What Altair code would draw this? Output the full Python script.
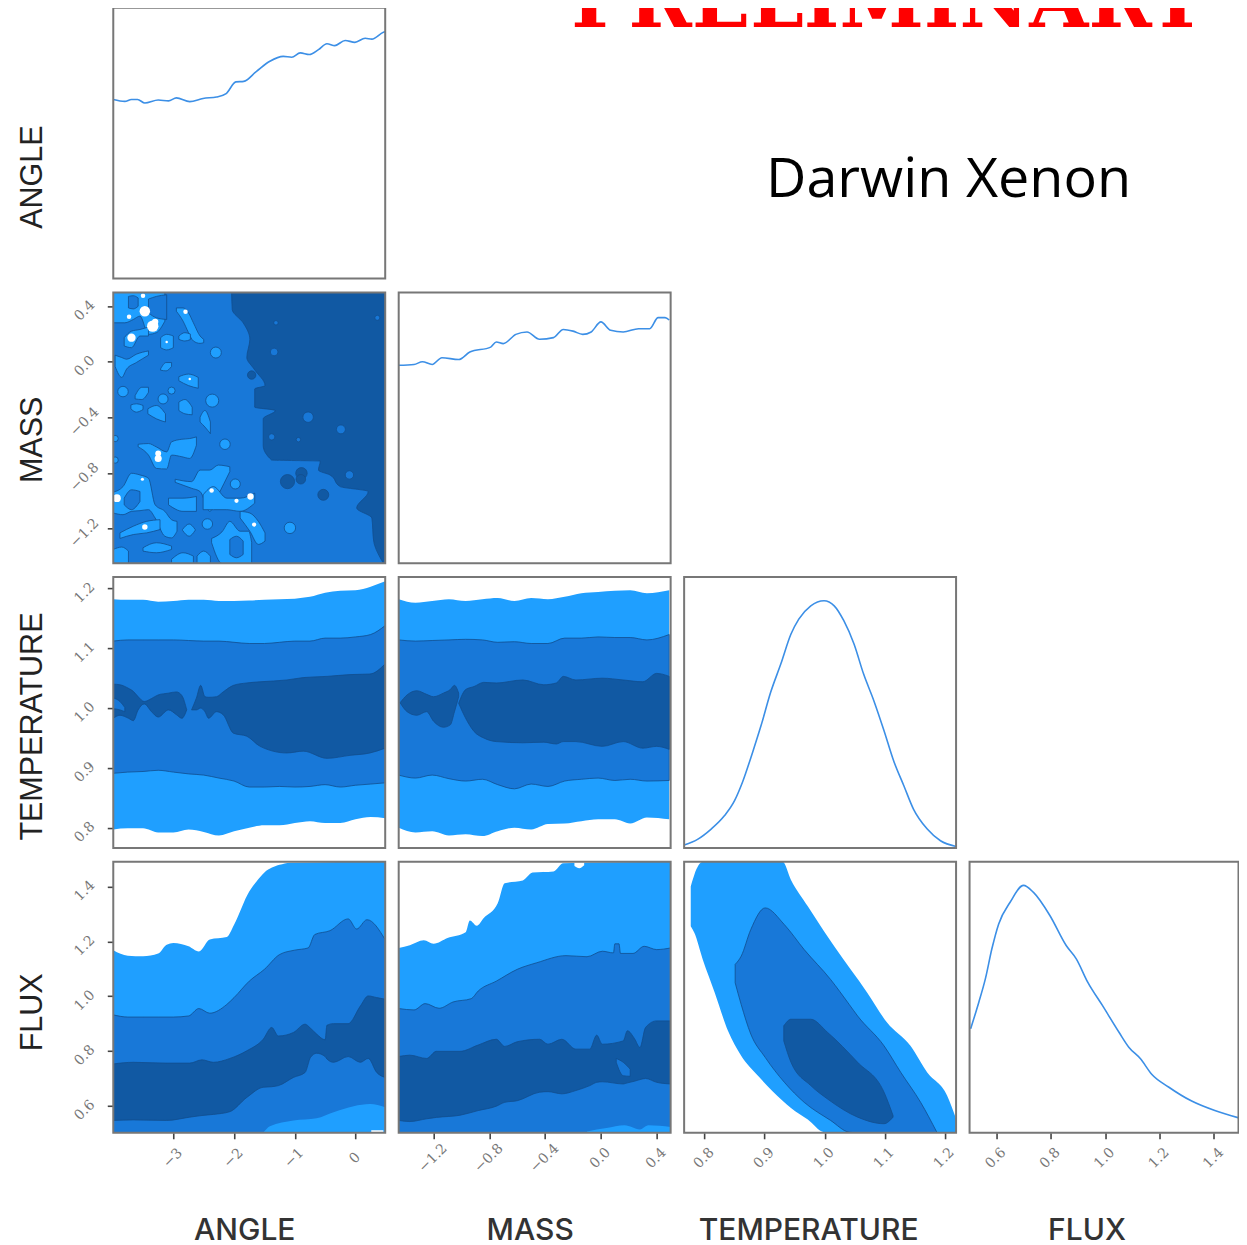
import altair as alt
import pandas as pd

# ---- axis ranges and ticks ----
ANGLE_DOM = [-3.99, 0.49]
MASS_DOM = [-1.45, 0.5]
TEMP_DOM = [0.766, 1.219]
FLUX_DOM = [0.502, 1.49]
ANGLE_TICKS = [-3, -2, -1, 0]
MASS_TICKS = [-1.2, -0.8, -0.4, 0.0, 0.4]
TEMP_TICKS = [0.8, 0.9, 1.0, 1.1, 1.2]
FLUX_TICKS = [0.6, 0.8, 1.0, 1.2, 1.4]

# ---- 1D marginals ----
ANGLE_X = [-3.99,-3.80,-3.69,-3.59,-3.47,-3.25,-3.08,-2.95,-2.73,-2.51,-2.29,-2.13,-1.97,-1.84,-1.63,-1.41,-1.19,-1.05,-0.91,-0.76,-0.61,-0.47,-0.34,-0.17,-0.01,0.16,0.27,0.46,0.49]
ANGLE_D = [.661,.654,.661,.661,.648,.659,.656,.667,.653,.665,.670,.683,.726,.728,.765,.802,.820,.817,.833,.827,.845,.867,.860,.879,.872,.887,.884,.909,.911]
MASS_X = [-1.45,-1.34,-1.28,-1.21,-1.14,-1.02,-.94,-.79,-.75,-.70,-.61,-.53,-.44,-.34,-.27,-.20,-.13,-.07,0.0,.07,.16,.27,.35,.41,.46,.49]
MASS_D = [.731,.734,.744,.734,.759,.752,.780,.798,.817,.811,.845,.854,.827,.833,.863,.857,.845,.854,.891,.860,.854,.866,.866,.907,.907,.898]
TEMP_X = [.766,.789,.811,.833,.850,.863,.880,.894,.910,.927,.944,.957,.977,.999,1.016,1.032,1.049,1.065,1.082,1.099,1.115,1.132,1.148,1.171,1.193,1.219]
TEMP_D = [.011,.033,.07,.119,.175,.242,.353,.451,.574,.679,.79,.845,.894,.913,.894,.839,.753,.642,.544,.433,.322,.23,.144,.07,.027,.006]
FLUX_X = [.506,.536,.56,.584,.609,.651,.70,.736,.797,.857,.894,.936,.99,1.051,1.087,1.13,1.172,1.233,1.318,1.403,1.491]
FLUX_D = [.384,.482,.568,.679,.771,.851,.913,.888,.802,.691,.642,.556,.47,.371,.316,.273,.215,.169,.117,.082,.055]

# ---- TEMPERATURE vs ANGLE ----
TA_X = [-3.99,-3.75,-3.5,-3.25,-3.0,-2.75,-2.5,-2.25,-2.0,-1.75,-1.5,-1.25,-1.0,-0.75,-0.5,-0.25,0,0.25,0.49]
TA_LIGHT_HI = [1.182,1.181,1.181,1.178,1.179,1.181,1.181,1.179,1.179,1.18,1.181,1.182,1.183,1.186,1.193,1.196,1.197,1.203,1.212]
TA_LIGHT_LO = [.797,.799,.799,.792,.792,.797,.793,.787,.794,.8,.804,.804,.808,.811,.808,.808,.814,.818,.816]
TA_MID_HI = [1.112,1.114,1.114,1.114,1.114,1.113,1.112,1.112,1.11,1.108,1.108,1.11,1.112,1.112,1.117,1.117,1.119,1.123,1.138]
TA_MID_LO = [.891,.893,.894,.896,.893,.89,.888,.883,.878,.868,.868,.869,.868,.869,.872,.868,.871,.873,.875]
TA_D1_X = [-3.99,-3.88,-3.74,-3.66,-3.58,-3.48,-3.36,-3.25,-3.08,-2.95,-2.86,-2.78]
TA_D1_HI = [1.04,1.039,1.033,1.028,1.019,1.011,1.016,1.022,1.025,1.027,1.021,.997]
TA_D1_LO = [.983,.988,.983,.979,.997,1.007,.994,.985,.997,.989,.983,.997]
TA_D2_X = [-2.70,-2.62,-2.55,-2.48,-2.42,-2.29,-2.18,-2.01,-1.79,-1.57,-1.13,-.86,-.47,-.09,.24,.49]
TA_D2_HI = [.997,1.017,1.038,1.019,1.018,1.019,1.027,1.038,1.042,1.044,1.047,1.051,1.053,1.056,1.057,1.074]
TA_D2_LO = [.997,.997,1.0,.994,.983,.994,.989,.958,.953,.936,.925,.928,.916,.921,.925,.933]
TA_NOTCH = [(-3.99,.999,1.017),(-3.88,.997,1.011),(-3.8,.994,1.001)]

# ---- TEMPERATURE vs MASS ----
TM_X = [-1.45,-1.33,-1.21,-1.09,-.97,-.85,-.74,-.62,-.5,-.38,-.26,-.14,-.02,.1,.21,.33,.49]
TM_LIGHT_HI = [1.182,1.176,1.179,1.182,1.179,1.182,1.184,1.179,1.184,1.182,1.186,1.192,1.194,1.196,1.197,1.192,1.197]
TM_LIGHT_LO = [.8,.792,.794,.787,.789,.786,.794,.8,.797,.806,.807,.811,.814,.814,.807,.817,.814]
TM_MID_HI = [1.114,1.112,1.113,1.114,1.115,1.114,1.11,1.111,1.108,1.108,1.117,1.117,1.119,1.118,1.118,1.114,1.123]
TM_MID_LO = [.888,.883,.888,.882,.878,.881,.872,.865,.873,.869,.878,.881,.883,.879,.881,.878,.879]
TM_D1_X = [-1.44,-1.39,-1.32,-1.25,-1.2,-1.13,-1.08,-1.05,-1.02]
TM_D1_HI = [1.009,1.022,1.029,1.023,1.019,1.025,1.031,1.038,1.025]
TM_D1_LO = [1.009,.994,.988,.994,.978,.968,.972,.994,1.019]
TM_D2_X = [-1.02,-.97,-.91,-.84,-.75,-.56,-.41,-.32,-.27,-.18,.01,.16,.3,.4,.49]
TM_D2_HI = [1.008,1.031,1.036,1.043,1.042,1.047,1.039,1.042,1.053,1.047,1.05,1.047,1.044,1.058,1.053]
TM_D2_LO = [1.008,.983,.961,.95,.944,.942,.943,.94,.944,.944,.936,.944,.933,.936,.931]

# ---- FLUX vs ANGLE ----
FA_LIGHT_X = [-3.99,-3.75,-3.5,-3.25,-3.11,-3,-2.75,-2.58,-2.4,-2.12,-2,-1.75,-1.63,-1.5,-1.25,-1.08,.49]
FA_LIGHT_HI = [1.168,1.148,1.146,1.156,1.188,1.194,1.182,1.163,1.207,1.216,1.261,1.382,1.418,1.451,1.479,1.487,1.49]
FA_MID_X = [-3.99,-3.75,-3.5,-3.25,-3,-2.75,-2.58,-2.4,-2.12,-2,-1.75,-1.5,-1.25,-1,-.78,-.67,-.42,-.12,.02,.19,.49]
FA_MID_HI = [.932,.924,.924,.924,.924,.928,.955,.938,.97,.995,1.055,1.098,1.152,1.168,1.176,1.225,1.239,1.282,1.245,1.279,1.206]
FA_PATCH = [(-1.52,.502,.502),(-1.41,.502,.526),(-1.02,.502,.547),(-.64,.502,.555),(-.36,.502,.577),(-.03,.502,.599),(.24,.502,.607),(.49,.502,.595)]
FA_WHITE = [(.26,.502,.511),(.46,.502,.511)]
FA_D_X = [-3.99,-3.66,-3.11,-2.73,-2.53,-2.34,-2.07,-1.79,-1.52,-1.38,-1.27,-1.02,-.83,-.74,-.64,-.5,-.47,-.36,-.12,.08,.21,.35,.49]
FA_D_HI = [.753,.759,.756,.756,.768,.759,.773,.801,.843,.886,.855,.868,.898,.883,.862,.841,.894,.9,.9,.964,1.001,.995,.989]
FA_D_LO = [.547,.549,.547,.559,.565,.569,.579,.631,.668,.67,.674,.704,.722,.777,.792,.78,.771,.759,.78,.759,.773,.722,.704]

# ---- FLUX vs MASS ----
FM_LIGHT_X = [-1.45,-1.37,-1.27,-1.2,-1.1,-.97,-.94,-.89,-.84,-.74,-.69,-.56,-.49,-.34,-.27,.5]
FM_LIGHT_HI = [1.176,1.186,1.204,1.191,1.212,1.233,1.276,1.257,1.285,1.339,1.412,1.422,1.451,1.455,1.485,1.49]
FM_MID_X = [-1.45,-1.34,-1.26,-1.16,-1.06,-.93,-.88,-.75,-.6,-.46,-.25,-.1,.01,.09,.1,.13,.14,.23,.31,.4,.5]
FM_MID_HI = [.955,.95,.973,.956,.979,.991,1.019,1.055,1.098,1.122,1.148,1.144,1.164,1.158,1.191,1.191,1.156,1.156,1.182,1.17,1.176]
FM_PATCH = [(-.1,.502,.507),(.04,.502,.519),(.17,.502,.529),(.28,.502,.514),(.34,.502,.529),(.5,.502,.523)]
FM_WHITE = [(-.19,1.475,1.49),(-.155,1.467,1.49),(-.12,1.478,1.49)]
FM_D_X = [-1.45,-1.37,-1.25,-1.18,-1.01,-.88,-.75,-.69,-.6,-.44,-.38,-.28,-.18,-.08,-.03,.01,.16,.19,.24,.28,.32,.4,.5]
FM_D_HI = [.78,.785,.773,.799,.799,.822,.843,.817,.834,.843,.825,.843,.807,.807,.858,.825,.837,.874,.846,.813,.886,.91,.91]
FM_D_LO = [.547,.543,.553,.558,.566,.583,.599,.613,.619,.65,.652,.644,.656,.674,.686,.688,.68,.684,.69,.696,.7,.686,.68]
FM_HOLE = [(.11,.759,.773),(.16,.71,.759),(.21,.708,.734)]

# ---- FLUX vs TEMPERATURE ----
FT_LIGHT_X = [.777,.783,.797,.817,.839,.861,.889,.93,.944,.972,.999,1.016,1.071,1.104,1.143,1.171,1.204,1.219]
FT_LIGHT_HI = [1.4,1.443,1.49,1.49,1.49,1.49,1.49,1.49,1.424,1.328,1.237,1.182,1.013,.904,.819,.722,.638,.553]
FT_LIGHT_LO = [1.255,1.231,1.134,1.013,.874,.783,.71,.619,.592,.55,.504,.502,.502,.502,.502,.502,.502,.502]
FT_MID_X = [.851,.861,.877,.901,.933,.966,1.01,1.041,1.055,1.099,1.127,1.16,1.187]
FT_MID_HI = [1.116,1.146,1.243,1.322,1.261,1.17,1.061,.97,.928,.819,.722,.613,.504]
FT_MID_LO = [1.049,.97,.862,.777,.686,.613,.547,.504,.502,.502,.502,.502,.502]
FT_D_X = [.932,.944,.977,1.005,1.055,1.099,1.114]
FT_D_HI = [.892,.916,.916,.868,.759,.65,.565]
FT_D_LO = [.837,.759,.674,.625,.559,.535,.559]

# ---- MASS vs ANGLE ----
MA_DARK_Y = [.5,.376,.281,.162,.031,-.052,-.171,-.195,-.326,-.35,-.41,-.6,-.707,-.714,-.779,-.814,-.898,-.933,-1.052,-1.124,-1.29,-1.45]
MA_DARK_X = [-2.04,-2.03,-1.85,-1.74,-1.79,-1.67,-1.49,-1.66,-1.66,-1.32,-1.52,-1.52,-1.38,-.58,-.61,-.42,-.25,.21,.02,.27,.3,.46]
MA_LIGHT = [
    [(-3.99,.281,.5),(-3.80,.281,.5),(-3.66,.305,.5),(-3.55,.329,.5),(-3.41,.198,.5),(-3.28,.21,.5),(-3.14,.293,.5)],
    [(-3.81,.114,.174),(-3.69,.102,.221),(-3.55,.186,.233),(-3.41,.186,.25)],
    [(-2.95,.364,.388),(-2.84,.293,.388),(-2.75,.21,.352),(-2.67,.15,.281),(-2.56,.133,.186),(-2.5,.138,.162)],
    [(-2.91,.162,.186),(-2.81,.15,.21),(-2.72,.16,.2)],
    [(-3.21,.102,.174),(-3.11,.086,.198),(-3.0,.102,.186)],
    [(-3.96,-.033,.048),(-3.85,-.112,.031),(-3.77,-.052,.019),(-3.61,-.005,.055),(-3.41,.048,.079)],
    [(-3.21,-.06,-.05),(-3.12,-.065,-.005),(-3.03,-.033,-.005)],
    [(-2.91,-.136,-.107),(-2.75,-.171,-.088),(-2.59,-.19,-.112)],
    [(-3.63,-.267,-.243),(-3.52,-.271,-.183),(-3.41,-.219,-.183)],
    [(-3.70,-.338,-.31),(-3.61,-.362,-.302),(-3.5,-.343,-.314)],
    [(-3.42,-.374,-.338),(-3.28,-.41,-.314),(-3.13,-.433,-.374)],
    [(-2.91,-.35,-.29),(-2.81,-.374,-.271),(-2.69,-.381,-.326)],
    [(-2.56,-.433,-.398),(-2.48,-.469,-.35),(-2.39,-.517,-.433)],
    [(-3.58,-.612,-.593),(-3.41,-.671,-.588),(-3.28,-.767,-.612),(-3.11,-.771,-.648),(-3.03,-.671,-.576),(-2.86,-.683,-.557),(-2.73,-.695,-.552),(-2.62,-.6,-.54)],
    [(-2.97,-.867,-.845),(-2.70,-.91,-.862),(-2.56,-.933,-.779),(-2.40,-1.076,-.779),(-2.26,-.957,-.743),(-2.07,-.79,-.755)],
    [(-2.51,-1.064,-.957),(-2.34,-1.064,-.898),(-2.12,-1.064,-.981),(-1.90,-1.076,-.981),(-1.66,-1.017,-.945)],
    [(-3.99,-1.088,-.938),(-3.83,-1.1,-.898),(-3.69,-1.076,-.802),(-3.55,-1.071,-.814),(-3.41,-1.064,-.838),(-3.30,-1.124,-1.029),(-3.14,-1.255,-1.076),(-3.03,-1.267,-1.136),(-2.94,-1.219,-1.148)],
    [(-3.88,-1.271,-1.231),(-3.66,-1.243,-1.183),(-3.44,-1.231,-1.148),(-3.22,-1.207,-1.136)],
    [(-3.08,-1.029,-.981),(-2.84,-1.076,-.981),(-2.62,-1.076,-.969)],
    [(-2.85,-1.212,-1.207),(-2.74,-1.255,-1.167),(-2.64,-1.212,-1.207)],
    [(-2.37,-1.302,-1.271),(-2.20,-1.45,-1.224),(-2.07,-1.45,-1.148),(-1.90,-1.45,-1.219),(-1.76,-1.45,-1.219),(-1.71,-1.45,-1.3)],
    [(-1.90,-1.124,-1.076),(-1.74,-1.219,-1.088),(-1.60,-1.314,-1.148),(-1.49,-1.29,-1.231)],
    [(-3.99,-1.45,-1.35),(-3.85,-1.45,-1.333),(-3.74,-1.45,-1.362)],
    [(-3.5,-1.362,-1.338),(-3.28,-1.374,-1.302),(-3.03,-1.35,-1.326)],
    [(-3.03,-1.45,-1.421),(-2.84,-1.45,-1.374),(-2.67,-1.45,-1.398)],
    [(-2.61,-1.45,-1.398),(-2.5,-1.45,-1.362),(-2.39,-1.45,-1.398)],
]
MA_MID_PATCHES = [
    [(-3.74,.388,.471),(-3.66,.381,.476),(-3.58,.4,.46)],
    [(-3.41,.352,.452),(-3.28,.317,.471),(-3.11,.305,.483)],
    [(-3.81,-1.029,-.981),(-3.69,-1.064,-.921),(-3.55,-1.005,-.933)],
    [(-2.07,-1.386,-1.279),(-1.96,-1.41,-1.255),(-1.85,-1.386,-1.29)],
]
# x, y, area of small islands
MA_LIGHT_DOTS = [(-2.30,.067,120),(-3.83,-.214,110),(-3.17,-.267,100),(-3.03,-.207,50),(-2.36,-.279,170),(-2.15,-.593,110),(-3.96,-.552,40),(-3.96,-.707,40),(-1.98,-.879,100),(-2.44,-1.167,110),(-1.08,-1.195,130)]
MA_MID_DOTS = [(-.78,-.398,110),(-.24,-.486,80),(-.1,-.814,70),(-1.38,-.54,40),(-1.34,.071,60),(.36,.317,25),(-1.31,.281,20),(-.94,-.56,20)]
MA_DARK_DOTS = [(-1.12,-.862,200),(-.89,-.802,130),(-.9,-.845,90),(-.53,-.957,120),(-1.71,-.095,70)]
MA_WHITE_DOTS = [(-3.47,.364,110),(-3.34,.257,130),(-3.3,.288,40),(-3.69,.174,70),(-3.5,.476,20),(-3.73,.324,20),(-2.8,.36,20),(-3.25,-.66,35),(-3.25,-.695,50),(-3.93,-.981,60),(-3.47,-1.188,30),(-2.37,-.926,20),(-1.73,-.969,40),(-1.96,-1.0,18),(-1.67,-1.171,18),(-3.51,-.845,10),(-2.73,-.124,6),(-3.11,.143,6)]

LABELS = ["ANGLE", "MASS", "TEMPERATURE", "FLUX"]
ANNOTATIONS = ["PRELIMINARY", "Darwin Xenon"]

LIGHT = "#1F9FFF"
MID = "#1878D8"
DARK = "#1159A3"
EDGE = "#124E8E"
LINE = "#3C8FE6"
W, H = 272, 271
LAST_W = 269


def x_axis(ticks, fmt, title, title_x):
    return alt.Axis(values=ticks, format=fmt, title=title, grid=False, domain=False,
                    tickSize=6, tickWidth=1.6, tickColor="#444",
                    labelFont="DejaVu Serif", labelFontSize=14, labelColor="#777", labelAngle=315,
                    labelAlign="center", labelBaseline="middle", labelPadding=19, labelOffset=-1,
                    titleFont="Inter", titleFontSize=30, titleFontWeight=500, titleColor="#333",
                    titleX=title_x, titleY=107, titleAlign="center", titleBaseline="alphabetic")


def y_axis(ticks, fmt, title, title_y):
    marks = dict(values=ticks, format=fmt) if ticks else dict(ticks=False, labels=False)
    return alt.Axis(title=title, grid=False, domain=False,
                    tickSize=6, tickWidth=1.6, tickColor="#444",
                    labelFont="DejaVu Serif", labelFontSize=14, labelColor="#777", labelAngle=315,
                    labelAlign="center", labelBaseline="middle", labelPadding=23, labelOffset=4,
                    titleFont="Liberation Sans", titleFontSize=30.5, titleFontWeight="normal", titleColor="#222",
                    titleX=-72, titleY=title_y, titleAlign="center", titleBaseline="alphabetic",
                    titleAngle=270, **marks)


def rows(blobs):
    out = []
    for i, blob in enumerate(blobs):
        for x, lo, hi in blob:
            out.append({"x": x, "lo": lo, "hi": hi, "id": i})
    return pd.DataFrame(out)


def zipped(xs, lo, hi):
    return list(zip(xs, lo, hi))


def full_low(xs, hi, low):
    return [(x, low, h) for x, h in zip(xs, hi)]


def frame(w=W):
    return (alt.Chart(alt.Data(values=[{"f": 1}]))
            .mark_rect(fillOpacity=0, stroke="#777", strokeWidth=2)
            .encode(x=alt.value(0), x2=alt.value(w), y=alt.value(0), y2=alt.value(H)))


def panel(xdom, ydom, xax, yax, blobs_by_color, outlined_light=False, extra=None):
    X = alt.X("x:Q", scale=alt.Scale(domain=xdom, nice=False, zero=False), axis=xax)
    Y = alt.Y("lo:Q", scale=alt.Scale(domain=ydom, nice=False, zero=False), axis=yax)
    layers = []
    for color, blobs in blobs_by_color:
        kw = dict(color=color, clip=True, interpolate="monotone")
        if color in (MID, DARK) or (color == LIGHT and outlined_light):
            kw.update(stroke=EDGE, strokeWidth=0.8)
        layers.append(alt.Chart(rows(blobs)).mark_area(**kw).encode(x=X, y=Y, y2="hi:Q", detail="id:N"))
    if extra:
        layers.extend(extra(X, Y))
    layers.append(frame())
    return alt.layer(*layers).properties(width=W, height=H)


def curve(xs, ds, xdom, xax, yax, w=W):
    df = pd.DataFrame({"x": xs, "d": ds})
    line = alt.Chart(df).mark_line(color=LINE, strokeWidth=1.6, clip=True, interpolate="monotone").encode(
        x=alt.X("x:Q", scale=alt.Scale(domain=xdom, nice=False, zero=False), axis=xax),
        y=alt.Y("d:Q", scale=alt.Scale(domain=[0, 1], nice=False, zero=False), axis=yax))
    return alt.layer(line, frame(w)).properties(width=w, height=H)


def dots_layer(points, color, X, Y):
    df = pd.DataFrame(points, columns=["x", "lo", "s"])
    kw = dict(color=color, opacity=1, clip=True)
    if color != "white":
        kw.update(stroke=EDGE, strokeWidth=0.8)
    return alt.Chart(df).mark_circle(**kw).encode(x=X, y=Y, size=alt.Size("s:Q", scale=None))


def ma_extra(X, Y):
    dark = (alt.Chart(pd.DataFrame({"lo": MA_DARK_Y, "x": MA_DARK_X, "x2": [ANGLE_DOM[1]] * len(MA_DARK_X)}))
            .mark_area(orient="horizontal", color=DARK, stroke=EDGE, strokeWidth=0.8, clip=True, interpolate="monotone")
            .encode(y=Y, x=X, x2="x2:Q"))
    return [alt.Chart(rows(MA_MID_PATCHES)).mark_area(color=MID, stroke=EDGE, strokeWidth=0.8, clip=True, interpolate="monotone")
            .encode(x=X, y=Y, y2="hi:Q", detail="id:N"),
            dots_layer(MA_LIGHT_DOTS, LIGHT, X, Y),
            dark,
            dots_layer(MA_MID_DOTS, MID, X, Y),
            dots_layer(MA_DARK_DOTS, DARK, X, Y),
            dots_layer(MA_WHITE_DOTS, "white", X, Y)]


# ---- panels ----
angle_y = y_axis(None, None, LABELS[0], 169)
mass_y = y_axis(MASS_TICKS, ".1f", LABELS[1], 147)
temp_y = y_axis(TEMP_TICKS, ".1f", LABELS[2], 149)
flux_y = y_axis(FLUX_TICKS, ".1f", LABELS[3], 150)
angle_x = x_axis(ANGLE_TICKS, "d", LABELS[0], 131)
mass_x = x_axis(MASS_TICKS, ".1f", LABELS[1], 131)
temp_x = x_axis(TEMP_TICKS, ".1f", LABELS[2], 124)
flux_x = x_axis(FLUX_TICKS, ".1f", LABELS[3], 117)

p11 = curve(ANGLE_X, ANGLE_D, ANGLE_DOM, None, angle_y)
p21 = panel(ANGLE_DOM, MASS_DOM, None, mass_y,
            [(MID, [[(ANGLE_DOM[0], MASS_DOM[0], MASS_DOM[1]), (ANGLE_DOM[1], MASS_DOM[0], MASS_DOM[1])]]),
             (LIGHT, MA_LIGHT)], outlined_light=True, extra=ma_extra)
p22 = curve(MASS_X, MASS_D, MASS_DOM, None, None)
p31 = panel(ANGLE_DOM, TEMP_DOM, None, temp_y,
            [(LIGHT, [zipped(TA_X, TA_LIGHT_LO, TA_LIGHT_HI)]),
             (MID, [zipped(TA_X, TA_MID_LO, TA_MID_HI)]),
             (DARK, [zipped(TA_D1_X, TA_D1_LO, TA_D1_HI), zipped(TA_D2_X, TA_D2_LO, TA_D2_HI)]),
             (MID, [TA_NOTCH])])
p32 = panel(MASS_DOM, TEMP_DOM, None, None,
            [(LIGHT, [zipped(TM_X, TM_LIGHT_LO, TM_LIGHT_HI)]),
             (MID, [zipped(TM_X, TM_MID_LO, TM_MID_HI)]),
             (DARK, [zipped(TM_D1_X, TM_D1_LO, TM_D1_HI), zipped(TM_D2_X, TM_D2_LO, TM_D2_HI)])])
p33 = curve(TEMP_X, TEMP_D, TEMP_DOM, None, None)
p41 = panel(ANGLE_DOM, FLUX_DOM, angle_x, flux_y,
            [(LIGHT, [full_low(FA_LIGHT_X, FA_LIGHT_HI, FLUX_DOM[0])]),
             (MID, [full_low(FA_MID_X, FA_MID_HI, FLUX_DOM[0])]),
             (LIGHT, [FA_PATCH]),
             (DARK, [zipped(FA_D_X, FA_D_LO, FA_D_HI)]),
             ("white", [FA_WHITE])])
p42 = panel(MASS_DOM, FLUX_DOM, mass_x, None,
            [(LIGHT, [full_low(FM_LIGHT_X, FM_LIGHT_HI, FLUX_DOM[0])]),
             (MID, [full_low(FM_MID_X, FM_MID_HI, FLUX_DOM[0])]),
             (LIGHT, [FM_PATCH]),
             ("white", [FM_WHITE]),
             (DARK, [zipped(FM_D_X, FM_D_LO, FM_D_HI)]),
             (MID, [FM_HOLE])])
p43 = panel(TEMP_DOM, FLUX_DOM, temp_x, None,
            [(LIGHT, [zipped(FT_LIGHT_X, FT_LIGHT_LO, FT_LIGHT_HI)]),
             (MID, [zipped(FT_MID_X, FT_MID_LO, FT_MID_HI)]),
             (DARK, [zipped(FT_D_X, FT_D_LO, FT_D_HI)])])
p44 = curve(FLUX_X, FLUX_D, FLUX_DOM, flux_x, None, w=LAST_W)

prelim = (alt.Chart(alt.Data(values=[{"t": ANNOTATIONS[0]}]))
          .mark_text(font="DejaVu Serif", fontWeight="bold", fontSize=76.3, color="#FF0000",
                     align="center", baseline="alphabetic", clip=True)
          .encode(text="t:N", x=alt.value(490), y=alt.value(19)))
darwin = (alt.Chart(alt.Data(values=[{"t": ANNOTATIONS[1]}]))
          .mark_text(font="Open Sans", fontSize=55.7, color="#000000", align="center",
                     baseline="alphabetic", clip=True)
          .encode(text="t:N", x=alt.value(551), y=alt.value(189)))
notes = alt.layer(prelim, darwin).properties(width=838, height=H)

SPACE_X, SPACE_Y = 9.5, 9.8
chart = (alt.vconcat(
    alt.hconcat(p11, notes, spacing=SPACE_X),
    alt.hconcat(p21, p22, spacing=SPACE_X),
    alt.hconcat(p31, p32, p33, spacing=SPACE_X),
    alt.hconcat(p41, p42, p43, p44, spacing=SPACE_X),
    spacing=SPACE_Y)
    .properties(padding={"left": 8.3, "top": -2.5, "right": -1, "bottom": 0}, background="white")
    .configure_view(stroke="transparent"))

chart.save("out.html", embed_options={"renderer": "svg", "actions": False})
